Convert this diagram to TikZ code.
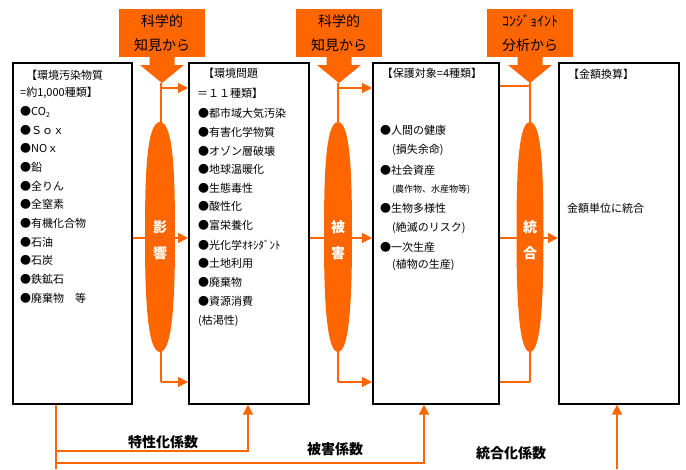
\documentclass[tikz,border=0pt]{standalone}
\usepackage{fontspec}
\setmainfont{Noto Sans CJK JP}
\usetikzlibrary{arrows.meta,calc}
\definecolor{orng}{HTML}{FF6600}
\begin{document}
\begin{tikzpicture}[x=1pt,y=-1pt,
  bigbox/.style={draw=black, line width=1.6pt, fill=white, minimum width=#1, minimum height=341pt, anchor=north west, inner sep=0pt},
  txt/.style={anchor=west, inner sep=0pt, font=\fontsize{11}{13}\selectfont},
  ctxt/.style={inner sep=0pt, font=\fontsize{11}{13}\selectfont},
  lab/.style={fill=orng, minimum width=86pt, minimum height=48pt, inner sep=0pt, align=center, font=\fontsize{14}{24}\selectfont},
  oline/.style={draw=orng, line width=1.5pt},
  oarrow/.style={draw=orng, line width=1.5pt, -{Triangle[length=10pt,width=10pt]}, fill=none},
  spin/.style={text=white, font=\fontsize{14}{26}\selectfont\bfseries, align=center, inner sep=0pt},
  coef/.style={font=\fontsize{14}{16}\selectfont\bfseries, inner sep=0pt}]
\useasboundingbox (0,0) rectangle (686,469);

% boxes
\node[bigbox=119pt] (b1) at (12,62) {};
\node[bigbox=120pt] (b2) at (188,62) {};
\node[bigbox=126pt] (b3) at (372,62) {};
\node[bigbox=120pt] (b4) at (558,62) {};

% top labels
\node[lab] (k1) at (162,33) {科学的\\知見から};
\node[lab] (k2) at (339,33) {科学的\\知見から};
\node[lab] (k3) at (530,33) {ｺﾝｼﾞｮｲﾝﾄ\\分析から};
\foreach \n/\cx in {1/162,2/339,3/530}{
  \fill[orng] (\cx-12.5,56) -- (\cx-12.5,65) -- (\cx-22,65) -- (\cx,83) -- (\cx+22,65) -- (\cx+12.5,65) -- (\cx+12.5,56) -- cycle;
  \coordinate (tip\n) at (\cx,83);
}

% group coordinates
\coordinate (g1t) at (161,88);
\coordinate (g1b) at (161,382);
\coordinate (g2t) at (338,88);
\coordinate (g2b) at (338,382);
\coordinate (g3t) at (530,86);
\coordinate (g3b) at (530,382);
\coordinate (m) at (0,238);

% brackets
\draw[oline] (tip1 -| g1t) -- (g1b);
\draw[oarrow] (g1t) -- (b2.west |- g1t);
\draw[oarrow] (g1b) -- (b2.west |- g1b);
\draw[oline] (tip2 -| g2t) -- (g2b);
\draw[oarrow] (g2t) -- (b3.west |- g2t);
\draw[oarrow] (g2b) -- (b3.west |- g2b);
\draw[oline] (tip3) -- (g3b);
\draw[oline] (b3.east |- g3t) -- (g3t);
\draw[oline] (b3.east |- g3b) -- (g3b);

% spindles
\foreach \cx/\w in {160/15,338/14,530/13.5}{
  \fill[orng] (\cx,122) .. controls (\cx+\w-1,122) and (\cx+\w,180) .. (\cx+\w,237)
     .. controls (\cx+\w,294) and (\cx+\w-2,352) .. (\cx,352)
     .. controls (\cx-\w+2,352) and (\cx-\w,294) .. (\cx-\w,237)
     .. controls (\cx-\w,180) and (\cx-\w+1,122) .. (\cx,122) -- cycle;
}

% middle arrows
\draw[oarrow] (b1.east |- m) -- (b2.west |- m);
\draw[oarrow] (b2.east |- m) -- (b3.west |- m);
\draw[oarrow] (b3.east |- m) -- (b4.west |- m);

\node[spin] (s1) at (160,240) {影\\響};
\node[spin] (s2) at (338,240) {被\\害};
\node[spin] (s3) at (530,240) {統\\合};

% box 1 text
\foreach \x/\y/\t [count=\i] in {
  26/75/{【環境汚染物質},
  20/93/{=約1,000種類】},
  20/112/{●CO\raisebox{-0.35ex}{\fontsize{7}{8}\selectfont 2}},
  20/130/{●Ｓｏｘ},
  20/148/{●NOｘ},
  20/167/{●鉛},
  20/186/{●全りん},
  20/204/{●全窒素},
  20/223/{●有機化合物},
  20/242/{●石油},
  20/260/{●石炭},
  20/279/{●鉄鉱石},
  20/298/{●廃棄物　等}}
  \node[txt] (ta\i) at (\x,\y) {\t};

% box 2 text
\foreach \x/\y/\t [count=\i] in {
  203/73/{【環境問題},
  197/93/{＝１１種類】},
  198/113/{●都市域大気汚染},
  198/132/{●有害化学物質},
  198/151/{●オゾン層破壊},
  198/169/{●地球温暖化},
  198/188/{●生態毒性},
  198/206/{●酸性化},
  198/225/{●富栄養化},
  198/245/{●光化学ｵｷｼﾀﾞﾝﾄ},
  198/263/{●土地利用},
  198/282/{●廃棄物},
  198/301/{●資源消費},
  198/321/{(枯渇性)}}
  \node[txt] (tb\i) at (\x,\y) {\t};

% box 3 text
\node[ctxt] (tc0) at (432,73) {【保護対象=4種類】};
\foreach \x/\y/\t [count=\i] in {
  380/130/{●人間の健康},
  392/150/{(損失余命)},
  380/170/{●社会資産},
  380/208/{●生物多様性},
  392/228/{(絶滅のリスク)},
  380/247/{●一次生産},
  392/265/{(植物の生産)}}
  \node[txt] (tc\i) at (\x,\y) {\t};
\node[txt, font=\fontsize{9}{11}\selectfont] (tc8) at (392,190) {(農作物、水産物等)};

% box 4 text
\node[ctxt] (td1) at (601,74) {【金額換算】};
\node[txt] (td2) at (567,208) {金額単位に統合};

% bottom connectors
\coordinate (p1) at (56,469);
\coordinate (q2) at (248,451);
\coordinate (q3) at (424,463);
\coordinate (q4) at (617,469);
\draw[oline] (b1.south -| p1) -- (p1);
\draw[oarrow] (p1 |- q2) -- (q2) -- (b2.south -| q2);
\draw[oarrow] (p1 |- q3) -- (q3) -- (b3.south -| q3);
\draw[oarrow] (q4) -- (b4.south -| q4);

\node[coef] (c1) at (163,442) {特性化係数};
\node[coef] (c2) at (335,449) {被害係数};
\node[coef] (c3) at (511,453) {統合化係数};
\end{tikzpicture}
\end{document}
